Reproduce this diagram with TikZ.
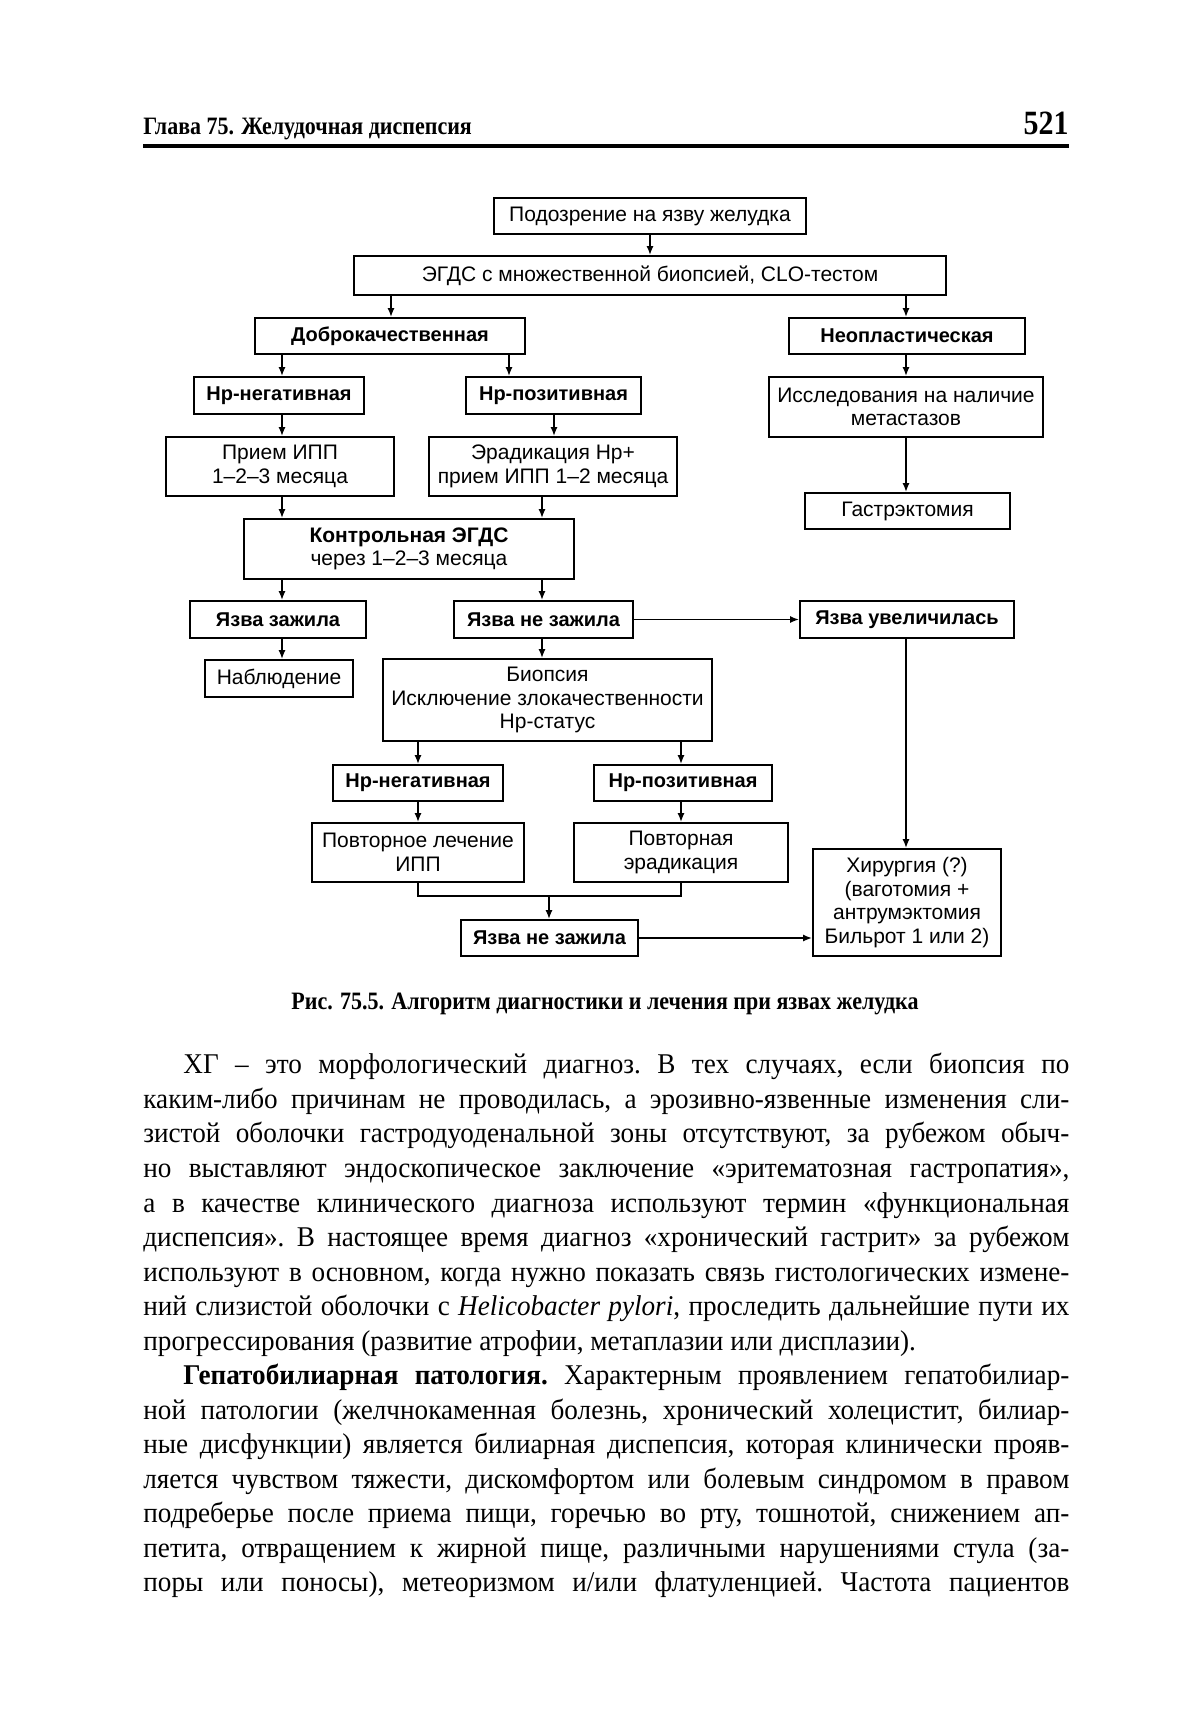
\documentclass[tikz,border=0pt]{standalone}
\usepackage{fontspec}
\setmainfont{Liberation Serif}
\newfontfamily\sansf{Liberation Sans}
\newfontfamily\bodyf[FakeStretch=0.95]{Liberation Serif}
\newfontfamily\headf[FakeStretch=0.88]{Liberation Serif}
\usetikzlibrary{arrows.meta,shadows}
\tikzset{
  box/.style={draw, line width=0.9pt, fill=white, inner sep=1pt, align=center,
    font=\sansf\fontsize{10.5}{11.8}\selectfont,
    drop shadow={shadow xshift=0.7pt, shadow yshift=-0.7pt, opacity=0.9, fill=black}},
  bbox/.style={box, font=\sansf\bfseries\fontsize{10}{11.8}\selectfont},
  arr/.style={-{Latex[length=4.5pt,width=3.5pt]}, line width=0.8pt},
  ln/.style={line width=0.8pt}
}
\begin{document}
\begin{tikzpicture}[x=0.5pt,y=-0.5pt]
\useasboundingbox[fill=white] (0,0) rectangle (1200,1724);
% header
\node[anchor=base west, inner sep=0, font=\headf\bfseries\fontsize{12.5}{14}\selectfont] (hdr) at (143,134) {Глава 75. Желудочная диспепсия};
\node[anchor=base east, inner sep=0, font=\headf\bfseries\fontsize{17}{18}\selectfont] (pg) at (1069,134) {521};
\draw[line width=1.6pt] (143,146) -- (1069,146);
% boxes
\node[box, minimum width=156pt, minimum height=18pt] (b1) at (650,216) {Подозрение на язву желудка};
\node[box, minimum width=296pt, minimum height=19.5pt] (b2) at (650,275.5) {ЭГДС с множественной биопсией, CLO-тестом};
\node[bbox, minimum width=135pt, minimum height=18pt] (dobro) at (390,336) {Доброкачественная};
\node[bbox, minimum width=118pt, minimum height=18pt] (neopl) at (907,336) {Неопластическая};
\node[bbox, minimum width=85pt, minimum height=18.5pt] (hpneg1) at (279,395.5) {Hp-негативная};
\node[bbox, minimum width=87.5pt, minimum height=18.5pt] (hppos1) at (553.5,395.5) {Hp-позитивная};
\node[box, minimum width=137pt, minimum height=30pt] (issled) at (906,407) {Исследования на наличие\\метастазов};
\node[box, minimum width=114pt, minimum height=29.5pt] (priem) at (280,466.5) {Прием ИПП\\1–2–3 месяца};
\node[box, minimum width=124pt, minimum height=29.5pt] (erad) at (553,466.5) {Эрадикация Hp+\\прием ИПП 1–2 месяца};
\node[box, minimum width=102.5pt, minimum height=18pt] (gastr) at (907.5,511) {Гастрэктомия};
\node[box, minimum width=165pt, minimum height=30pt] (kontr) at (409,549) {\textbf{Контрольная ЭГДС}\\через 1–2–3 месяца};
\node[bbox, minimum width=88pt, minimum height=18.5pt] (zazh) at (278,619.5) {Язва зажила};
\node[bbox, minimum width=89.5pt, minimum height=18.5pt] (nez1) at (543.5,619.5) {Язва не зажила};
\node[bbox, minimum width=107pt, minimum height=18.5pt] (uvel) at (907,619.5) {Язва увеличилась};
\node[box, minimum width=74pt, minimum height=18.5pt] (nabl) at (279,678.5) {Наблюдение};
\node[box, minimum width=164.5pt, minimum height=41pt] (biop) at (547.5,700) {Биопсия\\Исключение злокачественности\\Hp-статус};
\node[bbox, minimum width=85pt, minimum height=18pt] (hpneg2) at (418,783) {Hp-негативная};
\node[bbox, minimum width=89pt, minimum height=18pt] (hppos2) at (683,783) {Hp-позитивная};
\node[box, minimum width=106pt, minimum height=29.5pt] (povt1) at (418,852.5) {Повторное лечение\\ИПП};
\node[box, minimum width=107pt, minimum height=29.5pt] (povt2) at (681,852.5) {Повторная\\эрадикация};
\node[box, minimum width=94pt, minimum height=53.5pt] (hir) at (907,902.5) {Хирургия (?)\\(ваготомия +\\антрумэктомия\\Бильрот 1 или 2)};
\node[bbox, minimum width=88.5pt, minimum height=18pt] (nez2) at (549.5,938) {Язва не зажила};
% connector x positions
\coordinate (xa) at (650,0);
\coordinate (xb) at (391,0);
\coordinate (xc) at (906,0);
\coordinate (xd) at (282,0);
\coordinate (xe) at (509,0);
\coordinate (xf) at (554,0);
\coordinate (xg) at (542,0);
\coordinate (xh) at (418,0);
\coordinate (xi) at (681,0);
\coordinate (m) at (549,896);
% connectors
\draw[arr] (b1.south -| xa) -- (b2.north -| xa);
\draw[arr] (b2.south -| xb) -- (dobro.north -| xb);
\draw[arr] (b2.south -| xc) -- (neopl.north -| xc);
\draw[arr] (dobro.south -| xd) -- (hpneg1.north -| xd);
\draw[arr] (dobro.south -| xe) -- (hppos1.north -| xe);
\draw[arr] (neopl.south -| xc) -- (issled.north -| xc);
\draw[arr] (hpneg1.south -| xd) -- (priem.north -| xd);
\draw[arr] (hppos1.south -| xf) -- (erad.north -| xf);
\draw[arr] (issled.south -| xc) -- (gastr.north -| xc);
\draw[arr] (priem.south -| xd) -- (kontr.north -| xd);
\draw[arr] (erad.south -| xg) -- (kontr.north -| xg);
\draw[arr] (kontr.south -| xd) -- (zazh.north -| xd);
\draw[arr] (kontr.south -| xg) -- (nez1.north -| xg);
\draw[arr] (zazh.south -| xd) -- (nabl.north -| xd);
\draw[arr] (nez1.east) -- (uvel.west);
\draw[arr] (nez1.south -| xg) -- (biop.north -| xg);
\draw[arr] (uvel.south -| xc) -- (hir.north -| xc);
\draw[arr] (biop.south -| xh) -- (hpneg2.north -| xh);
\draw[arr] (biop.south -| xi) -- (hppos2.north -| xi);
\draw[arr] (hpneg2.south -| xh) -- (povt1.north -| xh);
\draw[arr] (hppos2.south -| xi) -- (povt2.north -| xi);
\draw[ln] (povt1.south -| xh) |- (m) -| (povt2.south -| xi);
\draw[arr] (m) -- (nez2.north -| m);
\draw[arr] (nez2.east) -- (hir.west |- nez2.east);
% caption
\node[anchor=base, inner sep=0, font=\headf\bfseries\fontsize{12.5}{14}\selectfont] (cap) at (605,1009) {Рис. 75.5. Алгоритм диагностики и лечения при язвах желудка};
% body
\node[anchor=north west, inner sep=0, text width=463pt, align=justify,
  font=\bodyf\fontsize{14.3}{17.27}\selectfont] (body) at (143,1053) {%
\frenchspacing\hyphenpenalty=10000 \exhyphenpenalty=10000 \emergencystretch=20pt \tolerance=9999
\hspace*{20pt}ХГ – это морфологический диагноз. В тех случаях, если биопсия по\linebreak
каким-либо причинам не проводилась, а эрозивно-язвенные изменения сли-\linebreak
зистой оболочки гастродуоденальной зоны отсутствуют, за рубежом обыч-\linebreak
но выставляют эндоскопическое заключение «эритематозная гастропатия»,\linebreak
а в качестве клинического диагноза используют термин «функциональная\linebreak
диспепсия». В настоящее время диагноз «хронический гастрит» за рубежом\linebreak
используют в основном, когда нужно показать связь гистологических измене-\linebreak
ний слизистой оболочки с \textit{Helicobacter pylori}, проследить дальнейшие пути их\linebreak
прогрессирования (развитие атрофии, метаплазии или дисплазии).\par
\parfillskip=0pt
\hspace*{20pt}\textbf{Гепатобилиарная патология.} Характерным проявлением гепатобилиар-\linebreak
ной патологии (желчнокаменная болезнь, хронический холецистит, билиар-\linebreak
ные дисфункции) является билиарная диспепсия, которая клинически прояв-\linebreak
ляется чувством тяжести, дискомфортом или болевым синдромом в правом\linebreak
подреберье после приема пищи, горечью во рту, тошнотой, снижением ап-\linebreak
петита, отвращением к жирной пище, различными нарушениями стула (за-\linebreak
поры или поносы), метеоризмом и/или флатуленцией. Частота пациентов\par};
\end{tikzpicture}
\end{document}
